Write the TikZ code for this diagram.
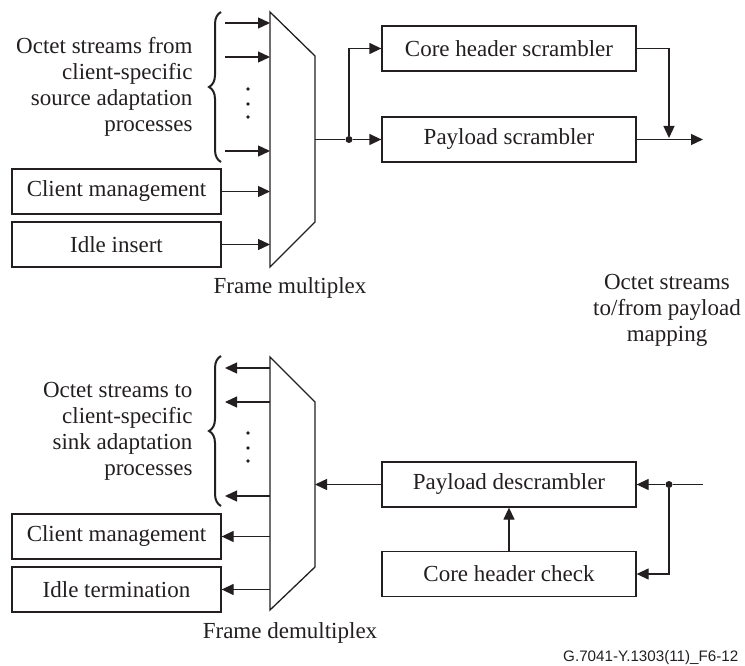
\documentclass[tikz,border=0pt]{standalone}
\usepackage{fontspec}
\setmainfont{Liberation Serif}
\newfontfamily\labelsans{Liberation Sans}
\usetikzlibrary{arrows.meta,decorations.pathreplacing}
\definecolor{ink}{HTML}{231F20}
\begin{document}
\begin{tikzpicture}[x=1pt,y=-1pt,
  every node/.style={text=ink, font=\fontsize{23}{26}\selectfont},
  line/.style={draw=ink, line width=1.3pt},
  flow/.style={line, -{Triangle[length=12pt,width=11pt]}},
  blockbox/.style={draw=ink, line width=1.3pt, minimum width=254pt, minimum height=45pt, inner sep=0pt},
  sidebox/.style={blockbox, minimum width=209pt},
  dot/.style={circle, fill=ink, inner sep=0pt, minimum size=7pt},
  grp/.style={draw=ink, line width=2pt, decorate, decoration={brace, amplitude=12pt}}]
\useasboundingbox (0,0) rectangle (745,666);

% ---------- transmit side ----------
% frame multiplexer
\draw[line] (270,12) -- (315,56) -- (315,222) -- (270,267) -- cycle;
\coordinate (mxL) at (270,0);
\coordinate (mxOut) at (315,139.5);

% stream inputs
\coordinate (s1) at (225,23);
\coordinate (s2) at (225,57);
\coordinate (s3) at (225,151);
\foreach \s in {s1,s2,s3} \draw[flow] (\s) -- (\s -| mxL);
\foreach \y in {89,104,117} \fill[ink] (248,\y) circle (1.9pt);
\draw[grp] (221,162) -- (221,12);
\node[anchor=east, align=right] (srcTxt) at (196,87)
  {Octet streams from\\client-specific\\source adaptation\\processes};

\node[sidebox] (cm) at (116.5,191.5) {Client management};
\node[sidebox] (ii) at (116.5,244.5) {Idle insert};
\draw[flow] (cm.east) -- (cm.east -| mxL);
\draw[flow] (ii.east) -- (ii.east -| mxL);
\node (fm) at (290,288) {Frame multiplex};

% scramblers
\node[blockbox] (chs) at (509,48.5) {Core header scrambler};
\node[blockbox] (ps) at (509,139.5) {Payload scrambler};
\node[dot] (j1) at (349,139.5) {};
\draw[line] (mxOut) -- (j1);
\draw[flow] (j1) -- (ps.west);
\draw[flow] (j1) |- (chs.west);
\coordinate (k1) at (669,139.5);
\coordinate (out1) at (703,139.5);
\draw[flow, shorten >=1.5pt] (chs.east) -| (k1);
\draw[flow] (ps.east) -- (out1);

\node[align=center] (mapTxt) at (667,310) {Octet streams\\to/from payload\\mapping};

% ---------- receive side ----------
% frame demultiplexer
\draw[line] (270,357) -- (315,402) -- (315,567) -- (270,610) -- cycle;
\coordinate (mxIn) at (315,484.5);

\coordinate (t1) at (225,368);
\coordinate (t2) at (225,402);
\coordinate (t3) at (225,496);
\foreach \t in {t1,t2,t3} \draw[flow] (\t -| mxL) -- (\t);
\foreach \y in {433,448,461} \fill[ink] (248,\y) circle (1.9pt);
\draw[grp] (221,506) -- (221,356);
\node[anchor=east, align=right] (snkTxt) at (196,431)
  {Octet streams to\\client-specific\\sink adaptation\\processes};

\node[sidebox] (cm2) at (116.5,536.5) {Client management};
\node[sidebox] (it) at (116.5,589.5) {Idle termination};
\draw[flow] (cm2.east -| mxL) -- (cm2.east);
\draw[flow] (it.east -| mxL) -- (it.east);
\node (fd) at (290,633) {Frame demultiplex};

% descrambler and header check
\node[blockbox] (pd) at (509,484.5) {Payload descrambler};
\node[blockbox] (chc) at (509,574) {Core header check};
\coordinate (in2) at (703,484.5);
\node[dot] (j2) at (669,484.5) {};
\draw[line] (in2) -- (j2);
\draw[flow] (j2) -- (pd.east);
\draw[flow] (j2) |- (chc.east);
\draw[flow] (chc) -- (pd);
\draw[flow] (pd.west) -- (mxIn);

\node[anchor=base west, inner sep=0pt, font=\labelsans\fontsize{15.2}{18}\selectfont] (figid) at (563,661) {G.7041-Y.1303(11)\_F6-12};
\end{tikzpicture}
\end{document}
